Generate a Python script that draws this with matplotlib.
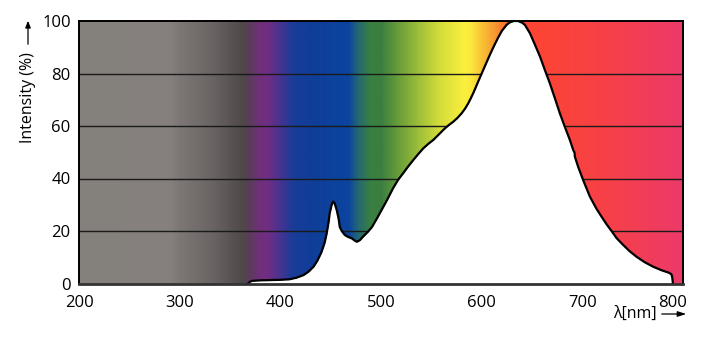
import numpy as np
import matplotlib
matplotlib.use("Agg")
import matplotlib.pyplot as plt
from matplotlib.colors import LinearSegmentedColormap
import matplotlib.transforms as mtransforms

plt.rcParams['font.family'] = ['Open Sans', 'DejaVu Sans']

# Spectrum (wavelength nm, relative intensity %)
wavelength = [368, 370, 372, 380, 390, 400, 409, 416, 423, 428, 433, 437, 441, 444, 446,
              448, 449, 451, 452.5, 454, 456, 458, 459, 461, 464, 467, 471, 474, 476,
              479, 482, 487, 491, 496, 501, 506, 512, 517, 522, 527, 532, 537, 542,
              547, 552, 558, 563.5, 567.5, 571.7, 576, 580, 583.5, 586.6, 589, 591.6,
              594, 596.5, 599, 601.5, 604, 608, 612, 616, 620, 624.7, 628, 632, 636,
              640, 643, 648, 653, 658, 662.8, 667.7, 672.7, 677.7, 682.6, 687.6,
              690.9, 692.3, 692.6, 695.8, 700.8, 707.5, 714, 719, 724, 729, 734,
              740.5, 747, 753.8, 762, 770.3, 779, 786, 788.5, 789.3, 790]
intensity = [0, 0.7, 1.0, 1.2, 1.3, 1.4, 1.6, 2.2, 3.2, 4.5, 6.4, 8.8, 12.1, 15.5, 19,
             23.5, 26.7, 30, 31.2, 30.5, 28, 24.5, 21.6, 20, 18.5, 17.8, 17.2, 16.3, 15.9,
             16.5, 17.8, 19.7, 21.5, 24.8, 28.3, 31.8, 36.3, 39.5, 42, 44.6, 47, 49.3, 51.5,
             53.2, 54.7, 57, 59.1, 60.4, 61.6, 63.1, 64.8, 66.6, 68.6, 70.4, 72.5,
             74.6, 76.9, 79.1, 81.3, 83.5, 87, 90.3, 93.4, 96.2, 98.5, 99.5, 100, 100,
             99.4, 98.5, 95.3, 90.9, 86.4, 81.3, 76.3, 70.6, 64.8, 59.7, 54.7,
             50.9, 49.8, 48.3, 44.5, 39.4, 33.1, 28.5, 25.5, 22.6, 20, 17.3,
             14.7, 12.3, 10.2, 8.1, 6.4, 5.0, 4.1, 3.5, 2.4, 0]

x_ticks = [200, 300, 400, 500, 600, 700, 800]
y_ticks = [0, 20, 40, 60, 80, 100]

# Background spectrum colour stops
grad_wl = [200, 290, 300, 332, 362, 369, 379, 387, 399, 412, 432, 468, 478, 490,
           500, 518, 538, 558, 583, 590, 601, 613, 625, 640, 731, 800]
grad_colors = ['#84807c', '#86817e', '#7c7775', '#6b6464', '#4f4949', '#5a3d5a',
               '#6e307a', '#722d82', '#4a3390', '#1a3c98', '#0f3e98', '#0b44a0',
               '#256a70', '#3a8040', '#3a7e40', '#6a9e3a', '#9ec038', '#d2dc3a',
               '#fbef3d', '#fbe83c', '#f8c035', '#f79a30', '#fb6a30', '#ff4530',
               '#f6404a', '#ec3a6a']

fig = plt.figure(figsize=(7.2, 3.56), dpi=100)
ax = fig.add_axes([79/720, 1-283.5/356, (683-79)/720, (283.5-21)/356])

xmin, xmax = grad_wl[0], grad_wl[-1]
pos = [(w - xmin) / (xmax - xmin) for w in grad_wl]
cmap = LinearSegmentedColormap.from_list('spec', list(zip(pos, grad_colors)), N=1024)
grad = np.linspace(0, 1, 1200).reshape(1, -1)
ax.imshow(grad, cmap=cmap, aspect='auto', extent=[xmin, xmax, 0, 100],
          interpolation='bilinear', zorder=0)

for yv in y_ticks[1:-1]:
    ax.axhline(yv, color='#1a1a1a', lw=1.0, zorder=1)

ax.fill_between(wavelength, intensity, 0, color='white', lw=0, zorder=2)
ax.plot(wavelength, intensity, color='black', lw=1.6, zorder=3,
        solid_joinstyle='round')

ax.set_xlim(200, 800)
ax.set_ylim(0, 100)
ax.set_xticks(x_ticks)
ax.set_yticks(y_ticks)
ax.tick_params(length=0, labelsize=12, pad=6, colors='black')
ax.tick_params(axis='x', pad=8)
for s in ax.spines.values():
    s.set_linewidth(1.4)
    s.set_color('black')
    s.set_zorder(5)
ax.spines['bottom'].set_linewidth(2.0)
ax.spines['bottom'].set_color('#333333')

# shift last x label left to keep it inside the frame
fig.canvas.draw()
labs = ax.get_xticklabels()
off = mtransforms.ScaledTranslation(-10/100, 0, fig.dpi_scale_trans)
labs[-1].set_transform(labs[-1].get_transform() + off)

# Y label with arrow
fig.text(28/720, 1-143/356, 'Intensity (%)', rotation=90, ha='center', va='bottom',
         fontsize=11.5)
fig.add_artist(matplotlib.patches.FancyArrowPatch(
    (28/720, 1-47/356), (28/720, 1-18/356), transform=fig.transFigure,
    arrowstyle='-|>,head_length=4,head_width=1.6', color='black', lw=0.9,
    mutation_scale=1))

# X label with arrow
fig.text(657/720, 1-314/356, 'λ[nm]', ha='right', va='center', fontsize=11.5)
fig.add_artist(matplotlib.patches.FancyArrowPatch(
    (659/720, 1-314/356), (689/720, 1-314/356), transform=fig.transFigure,
    arrowstyle='-|>,head_length=5,head_width=1.6', color='black', lw=0.9,
    mutation_scale=1))

fig.savefig('out.png', dpi=100)
